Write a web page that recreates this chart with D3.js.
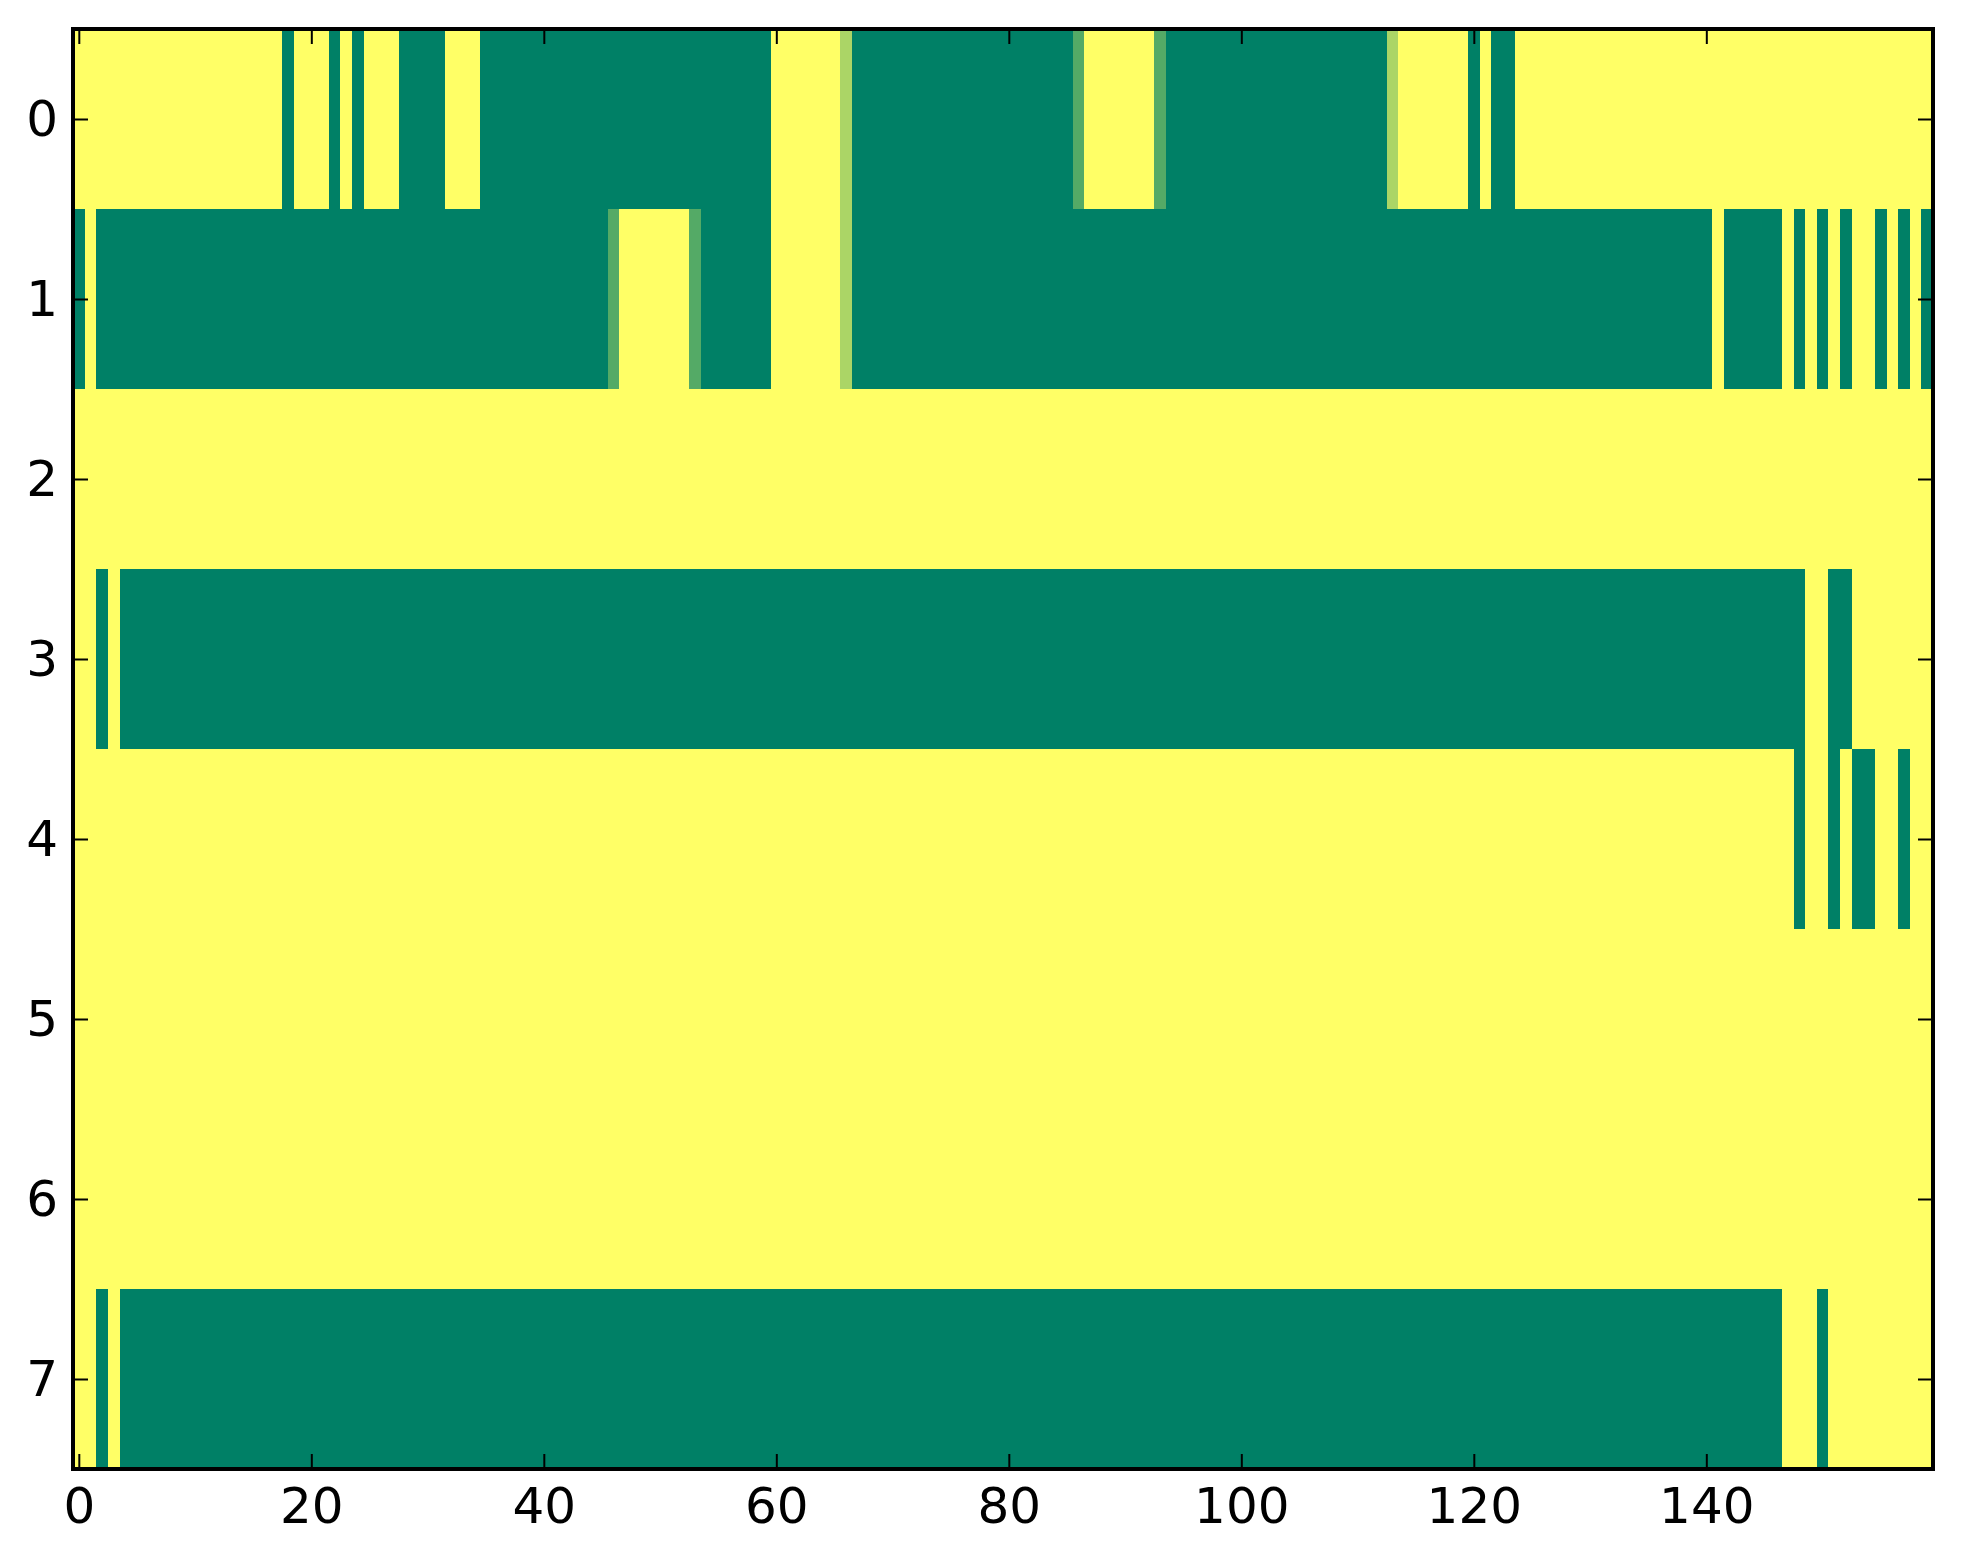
<!DOCTYPE html>
<html>
<head>
<meta charset="utf-8">
<script src="https://cdn.jsdelivr.net/npm/d3@7"></script>
<style>
  body { margin: 0; background: #fff; }
  text { font-family: "DejaVu Sans", sans-serif; }
</style>
</head>
<body>
<svg width="1963" height="1564"></svg>
<script>
// one array per image row, 160 columns each (0 = green end, 1 = yellow end)
var row0 = [
    1,1,1,1,1,1,1,1,1,1, 1,1,1,1,1,1,1,1,0,1,
    1,1,0,1,0,1,1,1,0,0, 0,0,1,1,1,0,0,0,0,0,
    0,0,0,0,0,0,0,0,0,0, 0,0,0,0,0,0,0,0,0,0,
    1,1,1,1,1,1,0.67,0,0,0, 0,0,0,0,0,0,0,0,0,0,
    0,0,0,0,0,0,0.33,1,1,1, 1,1,1,0.33,0,0,0,0,0,0,
    0,0,0,0,0,0,0,0,0,0, 0,0,0,0.67,1,1,1,1,1,1,
    0,1,0,0,1,1,1,1,1,1, 1,1,1,1,1,1,1,1,1,1,
    1,1,1,1,1,1,1,1,1,1, 1,1,1,1,1,1,1,1,1,1
];
var row1 = [
    0,1,0,0,0,0,0,0,0,0, 0,0,0,0,0,0,0,0,0,0,
    0,0,0,0,0,0,0,0,0,0, 0,0,0,0,0,0,0,0,0,0,
    0,0,0,0,0,0,0.33,1,1,1, 1,1,1,0.33,0,0,0,0,0,0,
    1,1,1,1,1,1,0.67,0,0,0, 0,0,0,0,0,0,0,0,0,0,
    0,0,0,0,0,0,0,0,0,0, 0,0,0,0,0,0,0,0,0,0,
    0,0,0,0,0,0,0,0,0,0, 0,0,0,0,0,0,0,0,0,0,
    0,0,0,0,0,0,0,0,0,0, 0,0,0,0,0,0,0,0,0,0,
    0,1,0,0,0,0,0,1,0,1, 0,1,0,1,1,0,1,0,1,0
];
var row2 = [
    1,1,1,1,1,1,1,1,1,1, 1,1,1,1,1,1,1,1,1,1,
    1,1,1,1,1,1,1,1,1,1, 1,1,1,1,1,1,1,1,1,1,
    1,1,1,1,1,1,1,1,1,1, 1,1,1,1,1,1,1,1,1,1,
    1,1,1,1,1,1,1,1,1,1, 1,1,1,1,1,1,1,1,1,1,
    1,1,1,1,1,1,1,1,1,1, 1,1,1,1,1,1,1,1,1,1,
    1,1,1,1,1,1,1,1,1,1, 1,1,1,1,1,1,1,1,1,1,
    1,1,1,1,1,1,1,1,1,1, 1,1,1,1,1,1,1,1,1,1,
    1,1,1,1,1,1,1,1,1,1, 1,1,1,1,1,1,1,1,1,1
];
var row3 = [
    1,1,0,1,0,0,0,0,0,0, 0,0,0,0,0,0,0,0,0,0,
    0,0,0,0,0,0,0,0,0,0, 0,0,0,0,0,0,0,0,0,0,
    0,0,0,0,0,0,0,0,0,0, 0,0,0,0,0,0,0,0,0,0,
    0,0,0,0,0,0,0,0,0,0, 0,0,0,0,0,0,0,0,0,0,
    0,0,0,0,0,0,0,0,0,0, 0,0,0,0,0,0,0,0,0,0,
    0,0,0,0,0,0,0,0,0,0, 0,0,0,0,0,0,0,0,0,0,
    0,0,0,0,0,0,0,0,0,0, 0,0,0,0,0,0,0,0,0,0,
    0,0,0,0,0,0,0,0,0,1, 1,0,0,1,1,1,1,1,1,1
];
var row4 = [
    1,1,1,1,1,1,1,1,1,1, 1,1,1,1,1,1,1,1,1,1,
    1,1,1,1,1,1,1,1,1,1, 1,1,1,1,1,1,1,1,1,1,
    1,1,1,1,1,1,1,1,1,1, 1,1,1,1,1,1,1,1,1,1,
    1,1,1,1,1,1,1,1,1,1, 1,1,1,1,1,1,1,1,1,1,
    1,1,1,1,1,1,1,1,1,1, 1,1,1,1,1,1,1,1,1,1,
    1,1,1,1,1,1,1,1,1,1, 1,1,1,1,1,1,1,1,1,1,
    1,1,1,1,1,1,1,1,1,1, 1,1,1,1,1,1,1,1,1,1,
    1,1,1,1,1,1,1,1,0,1, 1,0,1,0,0,1,1,0,1,1
];
var row5 = [
    1,1,1,1,1,1,1,1,1,1, 1,1,1,1,1,1,1,1,1,1,
    1,1,1,1,1,1,1,1,1,1, 1,1,1,1,1,1,1,1,1,1,
    1,1,1,1,1,1,1,1,1,1, 1,1,1,1,1,1,1,1,1,1,
    1,1,1,1,1,1,1,1,1,1, 1,1,1,1,1,1,1,1,1,1,
    1,1,1,1,1,1,1,1,1,1, 1,1,1,1,1,1,1,1,1,1,
    1,1,1,1,1,1,1,1,1,1, 1,1,1,1,1,1,1,1,1,1,
    1,1,1,1,1,1,1,1,1,1, 1,1,1,1,1,1,1,1,1,1,
    1,1,1,1,1,1,1,1,1,1, 1,1,1,1,1,1,1,1,1,1
];
var row6 = [
    1,1,1,1,1,1,1,1,1,1, 1,1,1,1,1,1,1,1,1,1,
    1,1,1,1,1,1,1,1,1,1, 1,1,1,1,1,1,1,1,1,1,
    1,1,1,1,1,1,1,1,1,1, 1,1,1,1,1,1,1,1,1,1,
    1,1,1,1,1,1,1,1,1,1, 1,1,1,1,1,1,1,1,1,1,
    1,1,1,1,1,1,1,1,1,1, 1,1,1,1,1,1,1,1,1,1,
    1,1,1,1,1,1,1,1,1,1, 1,1,1,1,1,1,1,1,1,1,
    1,1,1,1,1,1,1,1,1,1, 1,1,1,1,1,1,1,1,1,1,
    1,1,1,1,1,1,1,1,1,1, 1,1,1,1,1,1,1,1,1,1
];
var row7 = [
    1,1,0,1,0,0,0,0,0,0, 0,0,0,0,0,0,0,0,0,0,
    0,0,0,0,0,0,0,0,0,0, 0,0,0,0,0,0,0,0,0,0,
    0,0,0,0,0,0,0,0,0,0, 0,0,0,0,0,0,0,0,0,0,
    0,0,0,0,0,0,0,0,0,0, 0,0,0,0,0,0,0,0,0,0,
    0,0,0,0,0,0,0,0,0,0, 0,0,0,0,0,0,0,0,0,0,
    0,0,0,0,0,0,0,0,0,0, 0,0,0,0,0,0,0,0,0,0,
    0,0,0,0,0,0,0,0,0,0, 0,0,0,0,0,0,0,0,0,0,
    0,0,0,0,0,0,0,1,1,1, 0,1,1,1,1,1,1,1,1,1
];

var xTicks = [0, 20, 40, 60, 80, 100, 120, 140];
var yTicks = [0, 1, 2, 3, 4, 5, 6, 7];

function main() {
    var svg = d3.select("svg");
    var rows = [row0, row1, row2, row3, row4, row5, row6, row7];
    var nCols = row0.length;

    var left = 73, right = 1933, top = 29, bottom = 1469;

    var xScale = d3.scaleLinear().domain([-0.5, nCols - 0.5]).range([left, right]);
    var yScale = d3.scaleLinear().domain([-0.5, rows.length - 0.5]).range([top, bottom]);
    // matplotlib "summer"
    var color = d3.scaleLinear().domain([0, 1]).range(["#008066", "#ffff66"]);

    var cells = [];
    rows.forEach(function (r, j) {
        r.forEach(function (v, i) {
            cells.push({ row: j, col: i, value: v });
        });
    });

    svg.append("g")
        .selectAll("rect")
        .data(cells)
        .enter().append("rect")
        .attr("x", function (d) { return xScale(d.col - 0.5); })
        .attr("y", function (d) { return yScale(d.row - 0.5); })
        .attr("width", function (d) { return xScale(d.col + 0.5) - xScale(d.col - 0.5) + 0.4; })
        .attr("height", function (d) { return yScale(d.row + 0.5) - yScale(d.row - 0.5) + 0.4; })
        .attr("fill", function (d) { return color(d.value); })
        .attr("shape-rendering", "crispEdges");

    // ticks point inward on all four sides
    var gx = svg.append("g")
        .attr("transform", "translate(0," + bottom + ")")
        .call(d3.axisBottom(xScale).tickValues(xTicks).tickSizeInner(-15).tickSizeOuter(0).tickPadding(18));
    var gy = svg.append("g")
        .attr("transform", "translate(" + left + ",0)")
        .call(d3.axisLeft(yScale).tickValues(yTicks).tickSizeInner(-15).tickSizeOuter(0).tickPadding(15));
    var gt = svg.append("g")
        .attr("transform", "translate(0," + top + ")")
        .call(d3.axisTop(xScale).tickValues(xTicks).tickSizeInner(-15).tickSizeOuter(0).tickFormat(""));
    var gr = svg.append("g")
        .attr("transform", "translate(" + right + ",0)")
        .call(d3.axisRight(yScale).tickValues(yTicks).tickSizeInner(-15).tickSizeOuter(0).tickFormat(""));

    [gx, gy, gt, gr].forEach(function (g) {
        g.select(".domain").remove();
        g.selectAll(".tick line").attr("stroke", "#000").attr("stroke-width", 2);
        g.selectAll(".tick text")
            .attr("fill", "#000")
            .style("font-family", "'DejaVu Sans', sans-serif")
            .style("font-size", "50px");
    });

    svg.append("rect")
        .attr("x", left)
        .attr("y", top)
        .attr("width", right - left)
        .attr("height", bottom - top)
        .attr("fill", "none")
        .attr("stroke", "#000")
        .attr("stroke-width", 4);
}
main();
</script>
</body>
</html>
